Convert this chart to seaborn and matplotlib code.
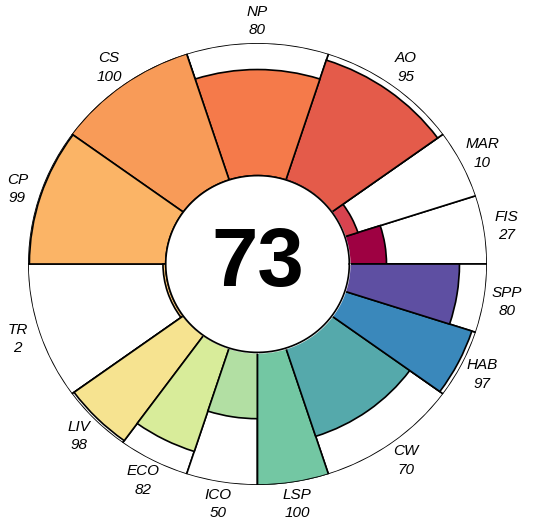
import numpy as np
import seaborn as sns
import matplotlib
matplotlib.use("Agg")
import matplotlib.pyplot as plt

# goal codes, scores and relative petal widths (counter-clockwise from east)
goals = ["FIS", "MAR", "AO", "NP", "CS", "CP", "TR",
         "LIV", "ECO", "ICO", "LSP", "CW", "HAB", "SPP"]
scores = [27, 10, 95, 80, 100, 99, 2, 98, 82, 50, 100, 70, 97, 80]
weights = [0.5, 0.5, 1, 1, 1, 1, 1, 0.5, 0.5, 0.5, 0.5, 1, 0.5, 0.5]
overall = 73

colors = ["#9E0142", "#D8434F", "#E45B4A", "#F57A4A", "#F89B58", "#FBB466", "#FDC97A",
          "#F6E390", "#D8EC9A", "#B2DFA3", "#73C7A3", "#55A9AB", "#3A88BB", "#5E4FA2"]
palette = sns.color_palette(colors)

sns.set_style("white")
plt.rcParams["font.family"] = ["Liberation Sans", "DejaVu Sans"]

inner = 0.4
w = np.array(weights) / sum(weights) * 2 * np.pi
left = np.concatenate([[0], np.cumsum(w)[:-1]])

fig = plt.figure(figsize=(5.41, 5.29), dpi=100)
ax = fig.add_axes([0.0518, 0.0832, 0.8484, 0.8355], projection="polar")
ax.set_aspect("auto")

# white background petals (full score) then coloured petals
ax.bar(left, [1 - inner] * len(goals), width=w, bottom=inner, align="edge",
       color="white", edgecolor="black", linewidth=1.2)
ax.bar(left, [(1 - inner) * s / 100 for s in scores], width=w, bottom=inner,
       align="edge", color=palette, edgecolor="black", linewidth=1.2)

# centre hole
th = np.linspace(0, 2 * np.pi, 400)
ax.fill_between(th, 0, inner, color="white", zorder=3)
ax.plot(th, [inner] * len(th), color="black", linewidth=1.2, zorder=4)
ax.text(0, 0, str(overall), ha="center", va="center", fontsize=60,
        fontweight="bold", color="black", zorder=5)

# petal labels
for g, s, l, ww in zip(goals, scores, left, w):
    ax.text(l + ww / 2, 1.10, f"{g}\n{s}", ha="center", va="center",
            fontsize=11, style="italic", color="black", linespacing=1.4)

ax.set_ylim(0, 1)
ax.set_xticks([])
ax.set_yticks([])
ax.grid(False)
ax.spines["polar"].set_visible(False)

fig.savefig("out.png", dpi=100)
